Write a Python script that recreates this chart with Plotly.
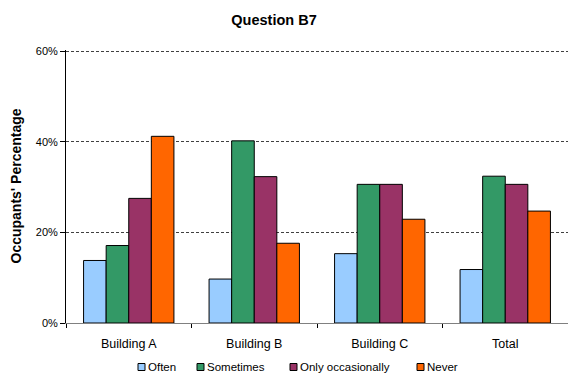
import plotly.graph_objects as go

# Survey responses to question B7, share of occupants per building (%)
categories = ["Building A", "Building B", "Building C", "Total"]
often = [13.8, 9.7, 15.3, 11.8]
sometimes = [17.1, 40.2, 30.6, 32.4]
only_occasionally = [27.5, 32.3, 30.6, 30.6]
never = [41.2, 17.6, 22.9, 24.7]

series_names = ["Often", "Sometimes", "Only occasionally", "Never"]
series_values = [often, sometimes, only_occasionally, never]
series_colors = ["#99CCFF", "#339966", "#993366", "#FF6600"]

W, H = 568, 374
ML, MR, MT, MB = 66, 0, 50, 51
PW, PH = W - ML - MR, H - MT - MB
font_family = "Liberation Sans, Arial, sans-serif"


def px_x(px):
    return (px - ML) / PW


def px_y(py):
    return (H - MB - py) / PH


fig = go.Figure()
for name, vals, color in zip(series_names, series_values, series_colors):
    fig.add_trace(go.Bar(
        name=name,
        x=categories,
        y=vals,
        marker=dict(color=color, line=dict(color="#000000", width=1)),
        showlegend=False,
    ))

# Legend row: small bordered swatches followed by the series names
legend_swatch_x = [138, 197, 290, 417]
legend_y = 367
shapes = []
annotations = []
for name, color, sx in zip(series_names, series_colors, legend_swatch_x):
    shapes.append(dict(
        type="rect", xref="paper", yref="paper",
        x0=px_x(sx), x1=px_x(sx + 7),
        y0=px_y(legend_y + 3.5), y1=px_y(legend_y - 3.5),
        fillcolor=color, line=dict(color="#000000", width=1),
    ))
    annotations.append(dict(
        text=name, xref="paper", yref="paper",
        x=px_x(sx + 8), y=px_y(legend_y),
        xanchor="left", yanchor="middle", showarrow=False,
        font=dict(family=font_family, size=11.5, color="#000000"),
    ))

annotations.append(dict(
    text="<b>Occupants' Percentage</b>",
    xref="paper", yref="paper",
    x=px_x(15), y=0.5,
    xanchor="center", yanchor="middle",
    textangle=-90, showarrow=False,
    font=dict(family=font_family, size=14, color="#000000"),
))

fig.update_layout(
    width=W,
    height=H,
    margin=dict(l=ML, r=MR, t=MT, b=MB),
    paper_bgcolor="white",
    plot_bgcolor="white",
    barmode="group",
    bargap=0.28,
    bargroupgap=0,
    showlegend=False,
    font=dict(family=font_family, size=11, color="#000000"),
    title=dict(
        text="<b>Question B7</b>",
        x=274 / W,
        xanchor="center",
        y=1 - 20 / H,
        yanchor="middle",
        font=dict(family=font_family, size=14.5, color="#000000"),
    ),
    xaxis=dict(
        type="category",
        showline=True,
        linecolor="#808080",
        linewidth=1,
        ticks="outside",
        tickson="boundaries",
        ticklen=4,
        tickcolor="#000000",
        ticklabelstandoff=9,
        showgrid=False,
        tickfont=dict(family=font_family, size=12.5, color="#000000"),
    ),
    yaxis=dict(
        range=[0, 60.25],
        tickvals=[0, 20, 40, 60],
        ticktext=["0%", "20%", "40%", "60%"],
        showline=True,
        linecolor="#000000",
        linewidth=1,
        ticks="outside",
        ticklen=5,
        tickcolor="#000000",
        showgrid=True,
        gridcolor="#404040",
        griddash="3px,2px",
        gridwidth=1,
        zeroline=False,
        tickfont=dict(family=font_family, size=11, color="#000000"),
    ),
    shapes=shapes,
    annotations=annotations,
)

fig.write_html("out.html")
